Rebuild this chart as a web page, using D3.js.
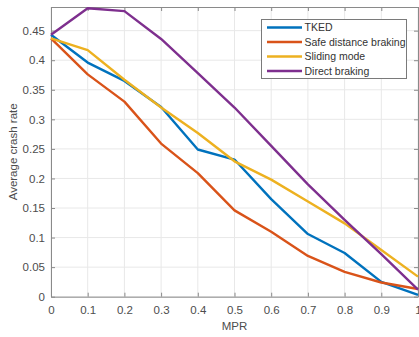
<!DOCTYPE html>
<html><head><meta charset="utf-8">
<script src="https://cdn.jsdelivr.net/npm/d3@7"></script>
<style>body{margin:0;background:#fff}svg{display:block}text{font-family:"Liberation Sans",Arial,sans-serif}</style>
</head><body><svg id="c" width="419" height="337"></svg>
<script>
const mpr = [0,0.1,0.2,0.3,0.4,0.5,0.6,0.7,0.8,0.9,1];
const tked = [0.443,0.396,0.365,0.321,0.249,0.232,0.165,0.106,0.074,0.025,0.003];
const safeDist = [0.437,0.376,0.330,0.259,0.209,0.146,0.110,0.069,0.042,0.024,0.013];
const sliding = [0.437,0.417,0.367,0.320,0.277,0.229,0.198,0.161,0.124,0.079,0.034];
const direct = [0.443,0.488,0.483,0.436,0.378,0.320,0.255,0.190,0.130,0.072,0.012];
const seriesNames = ["TKED","Safe distance braking","Sliding mode","Direct braking"];
const colors = ["#0072BD","#D95319","#EDB120","#7E2F8E"];
const xTicks = [0,0.1,0.2,0.3,0.4,0.5,0.6,0.7,0.8,0.9,1];
const xTickLabels = ["0","0.1","0.2","0.3","0.4","0.5","0.6","0.7","0.8","0.9","1"];
const yTicks = [0,0.05,0.1,0.15,0.2,0.25,0.3,0.35,0.4,0.45];
const yTickLabels = ["0","0.05","0.1","0.15","0.2","0.25","0.3","0.35","0.4","0.45"];
const series = [tked, safeDist, sliding, direct];

const svg = d3.select("#c");
const L=51, R=418, T=7, B=296.7;
const x = d3.scaleLinear().domain([0,1]).range([L,R]);
const y = d3.scaleLinear().domain([0,0.49]).range([B,T]);
const axisCol="#8a8a8a", textCol="#4d4d4d";

// grid
const g = svg.append("g");
g.selectAll(".vg").data(xTicks).join("line").attr("x1",d=>x(d)).attr("x2",d=>x(d)).attr("y1",T).attr("y2",B).attr("stroke","#e8e8e8").attr("stroke-width",1);
g.selectAll(".hg").data(yTicks).join("line").attr("x1",L).attr("x2",R).attr("y1",d=>y(d)).attr("y2",d=>y(d)).attr("stroke","#e8e8e8").attr("stroke-width",1);

// axes
const xa = svg.append("g").attr("transform",`translate(0,${B})`).call(d3.axisBottom(x).tickValues(xTicks).tickFormat((d,i)=>xTickLabels[i]).tickSizeInner(-4).tickSizeOuter(0).tickPadding(9));
const xt = svg.append("g").attr("transform",`translate(0,${T})`).call(d3.axisTop(x).tickValues(xTicks).tickFormat("").tickSizeInner(-4).tickSizeOuter(0));
const ya = svg.append("g").attr("transform",`translate(${L},0)`).call(d3.axisLeft(y).tickValues(yTicks).tickFormat((d,i)=>yTickLabels[i]).tickSizeInner(-4).tickSizeOuter(0).tickPadding(6));
const yr = svg.append("g").attr("transform",`translate(${R},0)`).call(d3.axisRight(y).tickValues(yTicks).tickFormat("").tickSizeInner(-4).tickSizeOuter(0));
[xa,xt,ya,yr].forEach(a=>{a.selectAll("path").attr("stroke",axisCol);a.selectAll("line").attr("stroke",axisCol);a.selectAll("text").attr("fill",textCol).attr("font-size",11.5).attr("font-family","Liberation Sans, Arial, sans-serif");});

// lines
const line = d3.line().x((d,i)=>x(mpr[i])).y(d=>y(d));
series.forEach((s,k)=>{
  svg.append("path").datum(s).attr("d",line).attr("fill","none").attr("stroke",colors[k]).attr("stroke-width",2.4).attr("stroke-linejoin","round");
});

// labels
svg.append("text").attr("x",x(0.5)).attr("y",330).attr("text-anchor","middle").attr("font-size",11.5).attr("fill",textCol).text("MPR");
svg.append("text").attr("transform",`translate(17,${(T+B)/2}) rotate(-90)`).attr("text-anchor","middle").attr("font-size",11.5).attr("fill",textCol).text("Average crash rate");

// legend
const lg = svg.append("g");
lg.append("rect").attr("x",261.5).attr("y",19.5).attr("width",145).attr("height",59).attr("fill","#fff").attr("stroke","#7a7a7a").attr("stroke-width",1);
seriesNames.forEach((n,k)=>{
  const yy = 27.5 + k*14.5;
  lg.append("line").attr("x1",267).attr("x2",302).attr("y1",yy).attr("y2",yy).attr("stroke",colors[k]).attr("stroke-width",2.4);
  lg.append("text").attr("x",304.5).attr("y",yy+3.6).attr("font-size",10.5).attr("fill","#333").text(n);
});
</script></body></html>
